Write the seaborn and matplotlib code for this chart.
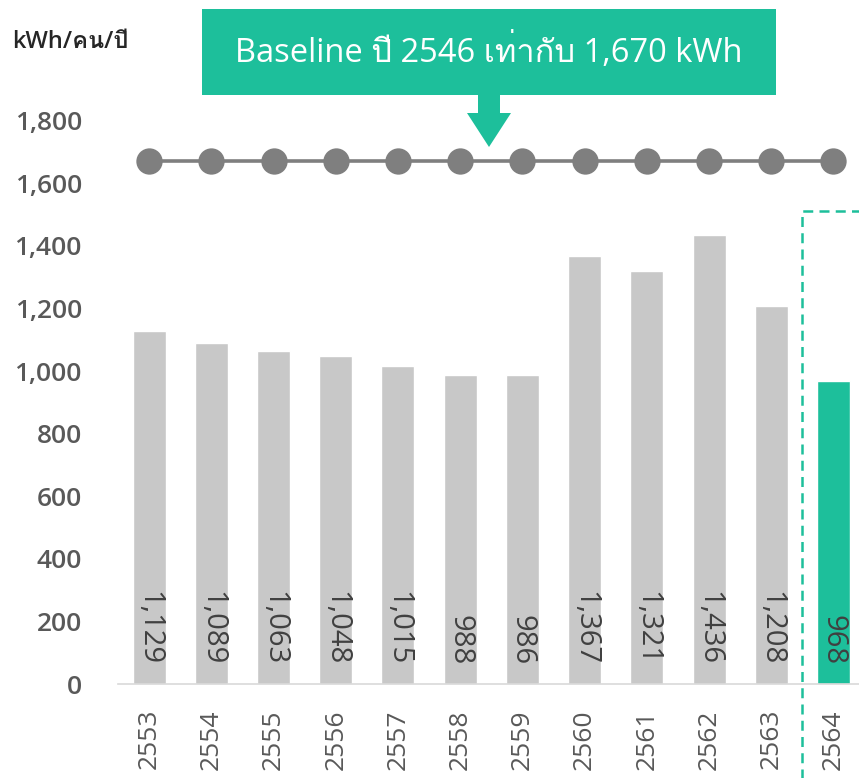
import matplotlib
matplotlib.use('Agg')
import matplotlib.pyplot as plt
from matplotlib import font_manager
from matplotlib.ft2font import FT2Font
from matplotlib.patches import Rectangle, Polygon
import seaborn as sns
import pandas as pd

# ข้อมูล
years = ['2553', '2554', '2555', '2556', '2557', '2558',
         '2559', '2560', '2561', '2562', '2563', '2564']
values = [1129, 1089, 1063, 1048, 1015, 988, 986, 1367, 1321, 1436, 1208, 968]
baseline = 1670
unit_label = 'kWh/คน/ปี'
note_text = 'Baseline ปี 2546 เท่ากับ 1,670 kWh'

GRAY = '#c8c8c8'
GREEN = '#1dbf9b'
LINE = '#7f7f7f'
TXT = '#595959'


def find_thai_font():
    for f in font_manager.fontManager.ttflist:
        try:
            if 0x0E1B in FT2Font(f.fname).get_charmap():
                return f.name
        except Exception:
            pass
    return None


sns.set_theme(style='white')
thai = find_thai_font()
fams = ['Open Sans'] + ([thai] if thai else []) + ['DejaVu Sans']
plt.rcParams['font.family'] = fams

df = pd.DataFrame({'year': years, 'value': values})
colors = [GRAY] * (len(years) - 1) + [GREEN]

W, H = 859, 778
fig = plt.figure(figsize=(W / 100, H / 100), dpi=100)
ax = fig.add_axes([118 / W, 1 - 684 / H, (W - 118) / W, (684 - 58) / H])


def px(x, y):
    return (x / W, 1 - y / H)


sns.barplot(data=df, x='year', y='value', hue='year', palette=colors,
            width=0.53, saturation=1, legend=False, ax=ax, zorder=2)
sns.pointplot(x=years, y=[baseline] * len(years), color=LINE,
              markersize=17, linewidth=2.6, ax=ax, zorder=3)

# ค่าบนแท่ง
for i, v in enumerate(values):
    ax.text(i, 60, f'{v:,}', rotation=-90, ha='center', va='bottom',
            fontsize=21, fontweight='medium', color='#404040', zorder=4)

ax.set_xlim(-0.5, 11.41)
ax.set_ylim(0, 2000)
ax.set_yticks(range(0, 2000, 200))
ax.set_yticklabels([f'{t:,}' for t in range(0, 2000, 200)])
ax.tick_params(axis='y', length=0, pad=26, labelsize=19, labelcolor=TXT)
ax.tick_params(axis='x', length=0, pad=18, labelsize=19, labelcolor=TXT,
               labelrotation=90)
for lab in ax.get_yticklabels():
    lab.set_fontweight('semibold')
ax.set_xlabel('')
ax.set_ylabel('')
for s in ['top', 'right', 'left']:
    ax.spines[s].set_visible(False)
ax.spines['bottom'].set_color('#d9d9d9')
ax.spines['bottom'].set_linewidth(1.2)

# กรอบเส้นประปี 2564
ax.plot([10.5, 10.5, 11.6], [-310, 1510, 1510], color=GREEN, lw=1.8,
        ls=(0, (4, 2.5)), clip_on=False, zorder=1)

# หน่วย
fig.text(*px(12, 42), unit_label, fontsize=17, fontweight='semibold',
         color='#262626', ha='left', va='center')

# กล่องข้อความ Baseline
x0, y0 = px(202, 95)
fig.patches.append(Rectangle((x0, y0), 574 / W, 86 / H, transform=fig.transFigure,
                             facecolor=GREEN, edgecolor='none', zorder=5))
arrow_pts = [(478, 95), (500, 95), (500, 113), (511, 113), (489, 147),
             (467, 113), (478, 113)]
fig.patches.append(Polygon([px(a, b) for a, b in arrow_pts], closed=True,
                           transform=fig.transFigure, facecolor=GREEN,
                           edgecolor='none', zorder=5))
fig.text(*px(489, 52), note_text, fontsize=23.5, color='white',
         ha='center', va='center', zorder=6)

fig.savefig('out.png', dpi=100)
